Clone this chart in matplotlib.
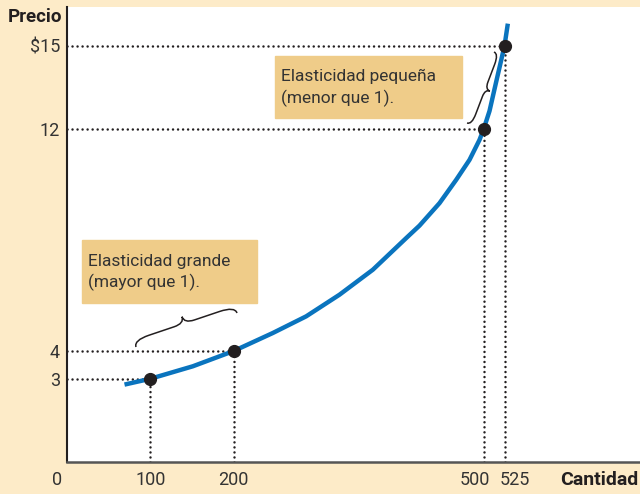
import numpy as np
import matplotlib
matplotlib.use("Agg")
from matplotlib import pyplot as plt
from matplotlib.path import Path
from matplotlib.patches import PathPatch

plt.rcParams['font.family'] = ['Roboto', 'DejaVu Sans']

# supply curve
qty = [69, 100, 151, 200, 247, 287, 327, 367, 407, 423, 447, 467, 483, 495, 500, 507, 515, 525, 529]
price = [2.79, 3, 3.45, 4, 4.65, 5.25, 6.03, 6.93, 8.07, 8.52, 9.33, 10.17, 10.89, 11.61, 12,
         12.65, 13.7, 15, 15.8]

# marked points
pt_q = [100, 200, 500, 525]
pt_p = [3, 4, 12, 15]

xticks = [0, 100, 200, 500, 525]
xlabels = ['0', '100', '200', '500', '525']
xlab_shift = [-10, 0, 0, -9, 10]   # label nudges in pixels, as printed
yticks = [3, 4, 12, 15]
ylabels = ['3', '4', '12', '$15']

cream = '#fdebc8'
boxcol = '#efcc89'
blue = '#0a74be'
ink = '#231f20'
txt = '#333333'

W, H = 640, 494
fig = plt.figure(figsize=(W / 100, H / 100), dpi=100, facecolor=cream)
ax = fig.add_axes([67 / W, 1 - 462 / H, (W - 67) / W, (462 - 7) / H])
ax.set_facecolor('white')
ax.set_xlim(0, 687.6)
ax.set_ylim(0, 16.4)

dots = dict(color=ink, ls=(0, (0.01, 2.0)), lw=1.8, dash_capstyle='round')
for q, p in zip(pt_q, pt_p):
    ax.plot([0, q], [p, p], **dots)
    ax.plot([q, q], [0, p], **dots)

ax.plot(qty, price, color=blue, lw=3.2, solid_capstyle='butt', solid_joinstyle='round', zorder=3)
ax.plot(pt_q, pt_p, 'o', color=ink, ms=8.5, zorder=4)

for s in ['top', 'right']:
    ax.spines[s].set_visible(False)
ax.spines['left'].set_color(ink)
ax.spines['left'].set_linewidth(1.5)
ax.spines['bottom'].set_color('#555555')
ax.spines['bottom'].set_linewidth(1.8)

ax.set_xticks([])
ax.set_yticks(yticks, ylabels)
ax.tick_params(length=0, labelsize=13, labelcolor=txt)
ax.tick_params(axis='y', pad=5)
for q, lab, dx in zip(xticks, xlabels, xlab_shift):
    ax.annotate(lab, xy=(q, 0), xytext=(dx, -18), textcoords='offset pixels',
                ha='center', va='center', fontsize=13, color=txt, annotation_clip=False)

fig.text(8 / W, 1 - 17 / H, 'Precio', fontsize=13.5, fontweight='bold', color=ink,
         ha='left', va='center')
fig.text(638 / W, 1 - 480 / H, 'Cantidad', fontsize=14, fontweight='bold', color=ink,
         ha='right', va='center')


def box(x0, y0, x1, y1, s):
    fig.patches.append(plt.Rectangle((x0 / W, 1 - y1 / H), (x1 - x0) / W, (y1 - y0) / H,
                                     transform=fig.transFigure, color=boxcol, zorder=5))
    fig.text((x0 + 6) / W, 1 - ((y0 + y1) / 2 + 1) / H, s, fontsize=12.5, color=txt,
             ha='left', va='center', linespacing=1.4, zorder=6)


box(82, 240, 257, 303, 'Elasticidad grande\n(mayor que 1).')
box(275, 56, 462, 118, 'Elasticidad pequeña\n(menor que 1).')


def brace(p0, p1, h):
    p0 = np.array(p0, float)
    p1 = np.array(p1, float)
    L = np.hypot(*(p1 - p0))
    d = (p1 - p0) / L
    n = np.array([d[1], -d[0]])
    if h < 0:
        n = -n
        h = -h

    def P(a, b):
        q = p0 + a * L * d + b * h * n
        return (q[0] / W, 1 - q[1] / H)
    verts = [P(0, 0), P(0, 0.5), P(0.15, 0.5), P(0.4, 0.5), P(0.5, 0.5), P(0.5, 1),
             P(0.5, 0.5), P(0.6, 0.5), P(0.85, 0.5), P(1, 0.5), P(1, 0)]
    codes = [Path.MOVETO, Path.CURVE3, Path.CURVE3, Path.LINETO, Path.CURVE3, Path.CURVE3,
             Path.CURVE3, Path.CURVE3, Path.LINETO, Path.CURVE3, Path.CURVE3]
    fig.patches.append(PathPatch(Path(verts, codes), transform=fig.transFigure,
                                 fill=False, lw=1.1, color=ink, zorder=6))


brace((136, 347), (237, 313), 14)
brace((467, 123), (494, 52), -10)

fig.savefig('out.png', dpi=100, facecolor=cream)
